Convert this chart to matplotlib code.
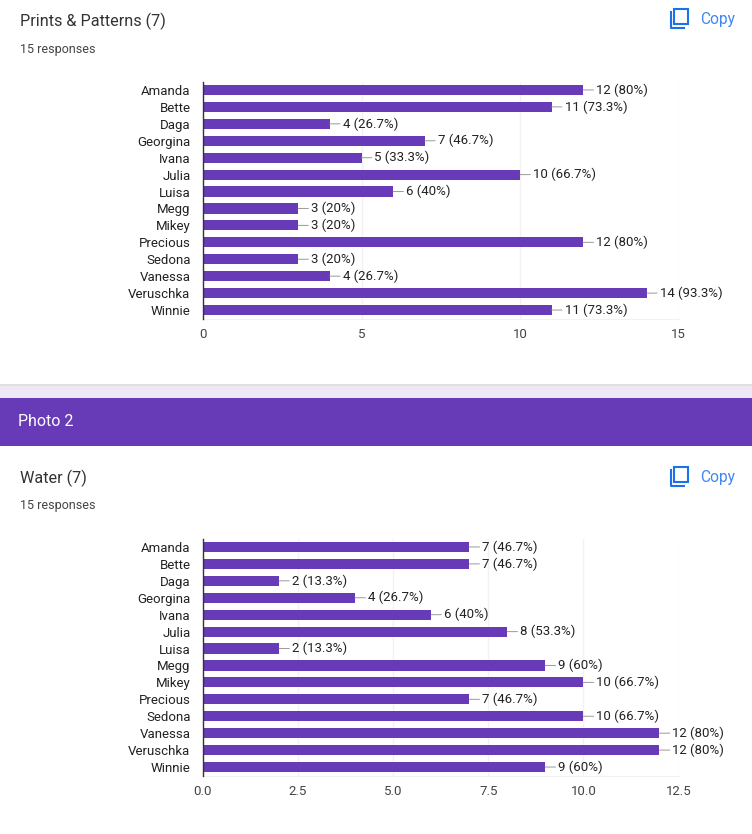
import matplotlib
matplotlib.use("Agg")
import matplotlib.pyplot as plt
from matplotlib.patches import Rectangle

plt.rcParams['font.family'] = ['Roboto', 'DejaVu Sans']

names = ["Amanda", "Bette", "Daga", "Georgina", "Ivana", "Julia", "Luisa", "Megg",
         "Mikey", "Precious", "Sedona", "Vanessa", "Veruschka", "Winnie"]
prints_values = [12, 11, 4, 7, 5, 10, 6, 3, 3, 12, 3, 4, 14, 11]
prints_labels = ["12 (80%)", "11 (73.3%)", "4 (26.7%)", "7 (46.7%)", "5 (33.3%)", "10 (66.7%)", "6 (40%)",
                 "3 (20%)", "3 (20%)", "12 (80%)", "3 (20%)", "4 (26.7%)", "14 (93.3%)", "11 (73.3%)"]
prints_ticks = [0, 5, 10, 15]
prints_ticklabels = ["0", "5", "10", "15"]
water_values = [7, 7, 2, 4, 6, 8, 2, 9, 10, 7, 10, 12, 12, 9]
water_labels = ["7 (46.7%)", "7 (46.7%)", "2 (13.3%)", "4 (26.7%)", "6 (40%)", "8 (53.3%)", "2 (13.3%)",
                "9 (60%)", "10 (66.7%)", "7 (46.7%)", "10 (66.7%)", "12 (80%)", "12 (80%)", "9 (60%)"]
water_ticks = [0, 2.5, 5, 7.5, 10, 12.5]
water_ticklabels = ["0.0", "2.5", "5.0", "7.5", "10.0", "12.5"]

W, H = 752, 834
PURPLE = "#673ab7"
px = 100 / 72
fig = plt.figure(figsize=(W / 100, H / 100), dpi=100, facecolor="white")


def fx(x): return x / W
def fy(y): return 1 - y / H


def frect(x0, y0, x1, y1, **kw):
    fig.add_artist(Rectangle((fx(x0), fy(y1)), (x1 - x0) / W, (y1 - y0) / H,
                             transform=fig.transFigure, linewidth=0, **kw))


def ftext(x, y, s, size, color, **kw):
    fig.text(fx(x), fy(y), s, fontsize=size / px, color=color, va="center", **kw)


def copy_icon(top):
    blue = "#1a73e8"
    fig.add_artist(Rectangle((fx(674), fy(top + 15)), 13.5 / W, 15 / H, transform=fig.transFigure,
                             fill=False, edgecolor=blue, linewidth=1.5))
    fig.add_artist(plt.Line2D([fx(670.5), fx(670.5), fx(684)], [fy(top + 3), fy(top + 19), fy(top + 19)],
                              color=blue, linewidth=1.5, transform=fig.transFigure))
    ftext(700, top + 10.5, "Copy", 15.5, "#4285f4")


def chart(top, bottom, values, labels, ticks, ticklabels, xmax):
    ax = fig.add_axes([fx(203), fy(bottom), (678.5 - 203) / W, (bottom - top) / H])
    pos = list(range(len(names)))
    ax.barh(pos, values, height=0.6, color=PURPLE, zorder=3)
    ax.set_xlim(0, xmax)
    ax.set_ylim(len(names) - 0.5, -0.5)
    ax.set_yticks(pos, names)
    ax.set_xticks(ticks, ticklabels)
    ax.tick_params(axis="both", length=0, labelsize=13.3 / px)
    ax.tick_params(axis="y", pad=9, labelcolor="#222222")
    ax.tick_params(axis="x", pad=7, labelcolor="#444444")
    ax.grid(axis="x", color="#f2f2f2", linewidth=1, zorder=0)
    ax.set_axisbelow(True)
    for s in ["top", "right"]:
        ax.spines[s].set_visible(False)
    ax.spines["bottom"].set_color("#f2f2f2")
    ax.spines["left"].set_color("#333333")
    ax.spines["left"].set_linewidth(1)
    ax.spines["left"].set_zorder(5)
    for p, v, s in zip(pos, values, labels):
        ax.annotate(s, xy=(v, p), xytext=(13 / px, 0), textcoords="offset points",
                    va="center", ha="left", fontsize=13.3 / px, color="#222222", zorder=6,
                    arrowprops=dict(arrowstyle="-", color="#999999", linewidth=0.7,
                                    shrinkA=0, shrinkB=0))


# Page furniture
frect(0, 385, W, 398, facecolor="#ede7f6")
frect(0, 384, W, 385.5, facecolor="#e0e0e0")
frect(0, 398, W, 446, facecolor=PURPLE)
ftext(18.5, 422, "Photo 2", 16, "white")
ftext(19.5, 21, "Prints & Patterns (7)", 16.3, "#333333")
ftext(19.5, 49, "15 responses", 12.5, "#444444")
ftext(19.5, 478, "Water (7)", 16.3, "#333333")
ftext(19.5, 506, "15 responses", 12.5, "#444444")
copy_icon(9)
copy_icon(467)

chart(81.5, 318.5, prints_values, prints_labels, prints_ticks, prints_ticklabels, 15)
chart(538.5, 775.5, water_values, water_labels, water_ticks, water_ticklabels, 12.5)

fig.savefig("out.png", dpi=100, facecolor="white")
